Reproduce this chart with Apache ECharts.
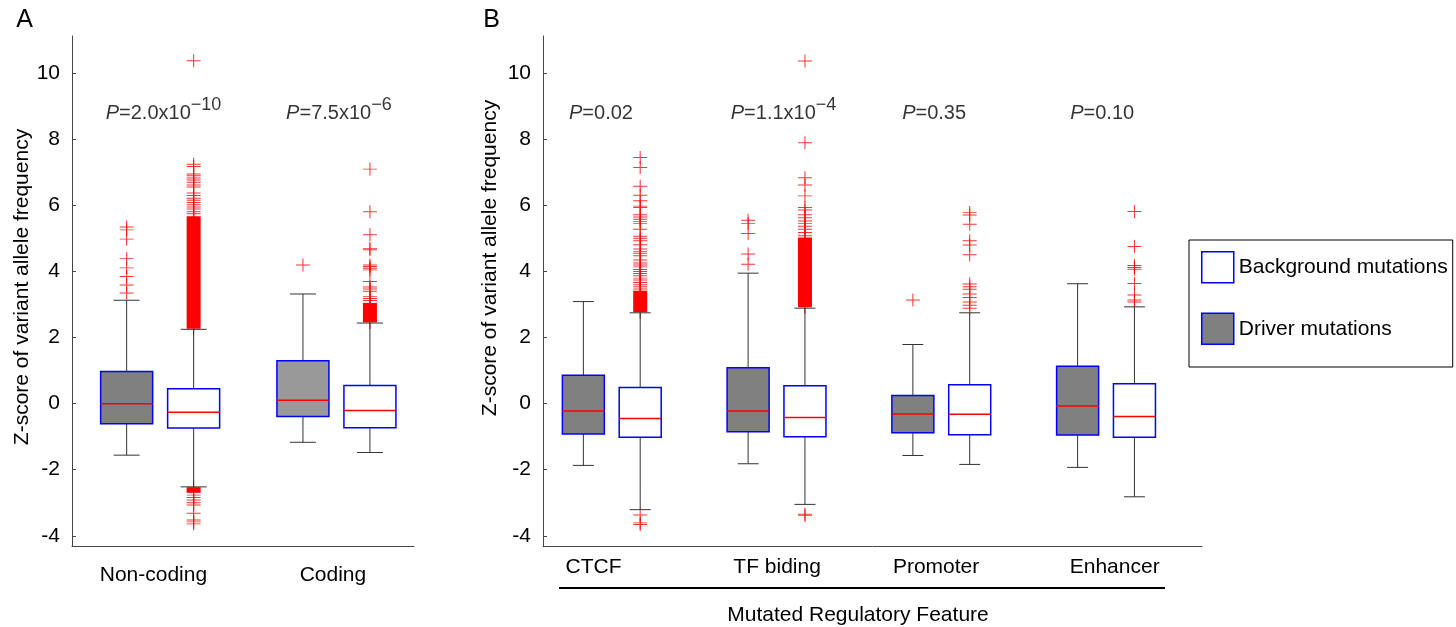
<!DOCTYPE html>
<html>
<head>
<meta charset="utf-8">
<script src="https://cdn.jsdelivr.net/npm/echarts@6/dist/echarts.min.js"></script>
<style>
  html, body { margin: 0; padding: 0; background: #fff; }
  #chart { width: 1456px; height: 627px; }
</style>
</head>
<body>
<div id="chart"></div>
<script>
const FONT = '"Liberation Sans", Arial, sans-serif'

const groupsA = ['Non-coding', 'Coding']
const groupsB = ['CTCF', 'TF biding', 'Promoter', 'Enhancer']
const yTicks = [-4, -2, 0, 2, 4, 6, 8, 10]
const pValuesA = ['2.0x10^-10', '7.5x10^-6']
const pValuesB = ['0.02', '1.1x10^-4', '0.35', '0.10']

// box stats: [lower whisker, Q1, median, Q3, upper whisker]
const driverA = [
  [-1.56, -0.61, 0.00, 0.97, 3.13],
  [-1.17, -0.39, 0.10, 1.30, 3.32]
]
const backgroundA = [
  [-2.52, -0.74, -0.26, 0.45, 2.25],
  [-1.48, -0.73, -0.21, 0.55, 2.44]
]
const driverB = [
  [-1.87, -0.92, -0.22, 0.86, 3.09],
  [-1.82, -0.85, -0.22, 1.09, 3.95],
  [-1.57, -0.88, -0.31, 0.25, 1.79],
  [-1.93, -0.95, -0.07, 1.13, 3.63]
]
const backgroundB = [
  [-3.21, -1.02, -0.45, 0.49, 2.75],
  [-3.05, -1.00, -0.42, 0.54, 2.89],
  [-1.84, -0.94, -0.32, 0.57, 2.75],
  [-2.82, -1.02, -0.39, 0.60, 2.93]
]

// outliers, one list per box
const driverOutA = [
  [5.35, 5.26, 4.98, 4.39, 4.11, 3.85, 3.59, 3.35],
  [4.20]
]
const backgroundOutA = [
  [10.38, 7.25, 7.18, 6.95, 6.90, 6.83, 6.77, 6.70, 6.62, 6.56, 6.38, 6.30, 6.22, 6.16, 6.09, 6.02, 5.95, 5.89, 5.81, 5.75,
    -2.77, -2.84, -2.92, -3.00, -3.07, -3.32, -3.52, -3.58, -3.64],
  [7.10, 5.81, 5.11, 4.70, 4.66, 4.20, 4.15, 4.10, 4.05, 3.70, 3.53, 3.47, 3.40, 3.24, 3.18, 3.12]
]
const driverOutB = [
  [],
  [5.55, 5.45, 5.15, 4.53, 4.22],
  [3.14],
  []
]
const backgroundOutB = [
  [7.45, 7.15, 6.58, 6.31, 6.14, 5.98, 5.94, 5.72, 5.65, 5.58, 5.51, 5.45, 5.28, 5.07, 5.01, 4.93, 4.81, 4.68, 4.61, 4.55, 4.48,
    4.35, 4.26, 4.20, 4.14, 4.06, 4.00, 3.94, 3.87, 3.80, 3.74, 3.67, 3.60, 3.54, 3.47, -3.37, -3.61, -3.66],
  [10.37, 7.90, 6.84, 6.62, 6.29, 5.94, 5.86, 5.72, 5.63, 5.53, 5.45, 5.37, 5.28, 5.18, 5.08, -3.35, -3.39],
  [5.79, 5.71, 5.43, 4.93, 4.80, 4.51, 3.62, 3.54, 3.46, 3.32, 3.21, 3.08, 2.98, 2.89],
  [5.82, 4.76, 4.18, 4.12, 4.07, 3.64, 3.29, 3.14, 3.08]
]
// spans where the outlier crosses are so many they merge into a solid bar
const backgroundDenseA = [
  [[2.27, 5.67], [-2.70, -2.53]],
  [[2.46, 3.05]]
]
const backgroundDenseB = [
  [[2.77, 3.42]],
  [[2.92, 5.03]],
  [],
  []
]

// layout: x position of [driver, background] box in each group
const slotsA = [[0.31, 0.69], [1.31, 1.69]]
const slotsB = [[0.245, 0.59], [1.245, 1.59], [2.245, 2.59], [3.245, 3.59]]
const labelXA = [0.462, 1.48]
const labelXB = [0.307, 1.421, 2.386, 3.47]
const pXA = [0.519, 1.514]
const pXB = [0.352, 1.46, 2.374, 3.394]
const pY = 8.78

const PLUS = 'path://M0,6.5L13,6.5M6.5,0L6.5,13'

function nearest(list, v) {
  let best = 0
  list.forEach((x, i) => { if (Math.abs(x - v) < Math.abs(list[best] - v)) best = i })
  return best
}

function boxSeries(grid, stats, slots, which, width, fills) {
  return {
    type: 'custom',
    xAxisIndex: grid,
    yAxisIndex: grid,
    z: 3,
    silent: true,
    encode: { x: 0, y: [1, 2, 3, 4, 5] },
    data: stats.map((s, i) => ({ value: [slots[i][which]].concat(s), itemStyle: { color: fills[i] } })),
    renderItem: function(params, api) {
      const x = api.value(0)
      const lo = api.coord([x, api.value(1)])
      const q1 = api.coord([x, api.value(2)])
      const md = api.coord([x, api.value(3)])
      const q3 = api.coord([x, api.value(4)])
      const hi = api.coord([x, api.value(5)])
      const cx = lo[0]
      const h = width / 2
      const c = width / 4
      const ws = { stroke: '#333', lineWidth: 1 }
      return {
        type: 'group',
        children: [
          { type: 'line', shape: { x1: cx, y1: hi[1], x2: cx, y2: q3[1] }, style: ws },
          { type: 'line', shape: { x1: cx, y1: q1[1], x2: cx, y2: lo[1] }, style: ws },
          { type: 'line', shape: { x1: cx - c, y1: hi[1], x2: cx + c, y2: hi[1] }, style: ws },
          { type: 'line', shape: { x1: cx - c, y1: lo[1], x2: cx + c, y2: lo[1] }, style: ws },
          { type: 'rect', shape: { x: cx - h, y: q3[1], width: width, height: q1[1] - q3[1] },
            style: { fill: api.visual('color'), stroke: '#0000ff', lineWidth: 1.5 } },
          { type: 'line', shape: { x1: cx - h, y1: md[1], x2: cx + h, y2: md[1] },
            style: { stroke: '#ff0000', lineWidth: 1.5 } }
        ]
      }
    }
  }
}

function outlierSeries(grid, outs, slots, which) {
  const data = []
  outs.forEach((list, i) => list.forEach(v => data.push([slots[i][which], v])))
  return {
    type: 'scatter',
    xAxisIndex: grid,
    yAxisIndex: grid,
    z: 2,
    silent: true,
    symbol: PLUS,
    symbolSize: [14, 13],
    itemStyle: { color: 'rgba(0,0,0,0)', borderColor: '#ff0000', borderWidth: 1 },
    data: data
  }
}

function denseSeries(grid, spans, slots) {
  const data = []
  spans.forEach((list, i) => list.forEach(r => data.push([slots[i][1], r[0], r[1]])))
  return {
    type: 'custom',
    xAxisIndex: grid,
    yAxisIndex: grid,
    z: 2,
    silent: true,
    encode: { x: 0, y: [1, 2] },
    data: data,
    renderItem: function(params, api) {
      const a = api.coord([api.value(0), api.value(1)])
      const b = api.coord([api.value(0), api.value(2)])
      return {
        type: 'group',
        children: [
          { type: 'rect', shape: { x: a[0] - 7, y: b[1], width: 14, height: a[1] - b[1] }, style: { fill: '#ff0000' } },
          { type: 'line', shape: { x1: a[0], y1: b[1] - 6.5, x2: a[0], y2: a[1] + 6.5 }, style: { stroke: '#ff0000', lineWidth: 1 } }
        ]
      }
    }
  }
}

function pText(s) {
  const parts = s.split('^')
  let t = '{i|P}{t|=' + parts[0] + '}'
  if (parts[1]) t += '{s|' + parts[1].replace('-', '\u2212') + '}'
  return t
}

function pSeries(grid, values, xs) {
  return {
    type: 'scatter',
    xAxisIndex: grid,
    yAxisIndex: grid,
    silent: true,
    symbolSize: 0,
    data: xs.map(x => [x, pY]),
    label: {
      show: true,
      position: 'inside',
      color: '#000',
      textBorderWidth: 0,
      formatter: p => pText(values[p.dataIndex]),
      rich: {
        i: { fontStyle: 'italic', fontSize: 20, lineHeight: 36, fontFamily: FONT, color: '#000' },
        t: { fontSize: 20, lineHeight: 36, fontFamily: FONT, color: '#000' },
        s: { fontSize: 18, lineHeight: 19, verticalAlign: 'top', fontFamily: FONT, color: '#000' }
      }
    }
  }
}

function xAxisCfg(grid, max, labelX, names, margin) {
  return {
    gridIndex: grid,
    type: 'value',
    min: 0,
    max: max,
    axisLine: { show: true, onZero: false, lineStyle: { color: '#444', width: 1 } },
    axisTick: { show: false },
    splitLine: { show: false },
    axisLabel: {
      customValues: labelX,
      formatter: v => names[nearest(labelX, v)],
      fontSize: 21,
      fontFamily: FONT,
      color: '#000',
      margin: margin
    }
  }
}

function yAxisCfg(grid) {
  return {
    gridIndex: grid,
    type: 'value',
    min: -4.31,
    max: 11.13,
    axisLine: { show: true, onZero: false, lineStyle: { color: '#444', width: 1 } },
    axisTick: { show: true, inside: true, length: 4, customValues: yTicks, lineStyle: { color: '#444' } },
    splitLine: { show: false },
    axisLabel: { customValues: yTicks, fontSize: 21, fontFamily: FONT, color: '#000', margin: 12 }
  }
}

const chart = echarts.init(document.getElementById('chart'))
const txt = { fontFamily: FONT, fontSize: 21, fill: '#000' }

chart.setOption({
  animation: false,
  grid: [
    { left: 72, top: 36, width: 342, height: 510 },
    { left: 543, top: 36, width: 659, height: 510 }
  ],
  xAxis: [
    xAxisCfg(0, 1.94, labelXA, groupsA, 19),
    xAxisCfg(1, 4.0, labelXB, groupsB, 11)
  ],
  yAxis: [yAxisCfg(0), yAxisCfg(1)],
  legend: {
    orient: 'vertical',
    left: 1189,
    top: 240,
    icon: 'rect',
    itemWidth: 32,
    itemHeight: 31,
    itemGap: 29,
    padding: [11, 5, 22, 12],
    borderColor: '#000',
    borderWidth: 1,
    selectedMode: false,
    textStyle: { fontSize: 21, fontFamily: FONT, color: '#000' },
    data: [
      { name: 'Background mutations', itemStyle: { color: '#ffffff', borderColor: '#0000ff', borderWidth: 1.5, opacity: 1 } },
      { name: 'Driver mutations', itemStyle: { color: '#808080', borderColor: '#0000ff', borderWidth: 1.5, opacity: 1 } }
    ]
  },
  series: [
    { type: 'scatter', name: 'Background mutations', xAxisIndex: 1, yAxisIndex: 1, data: [],
      itemStyle: { color: '#ffffff', borderColor: '#0000ff', borderWidth: 1.5, opacity: 1 } },
    { type: 'scatter', name: 'Driver mutations', xAxisIndex: 1, yAxisIndex: 1, data: [],
      itemStyle: { color: '#808080', borderColor: '#0000ff', borderWidth: 1.5, opacity: 1 } },
    outlierSeries(0, driverOutA, slotsA, 0),
    outlierSeries(0, backgroundOutA, slotsA, 1),
    denseSeries(0, backgroundDenseA, slotsA),
    boxSeries(0, driverA, slotsA, 0, 52, ['#808080', '#999999']),
    boxSeries(0, backgroundA, slotsA, 1, 52, ['#ffffff', '#ffffff']),
    pSeries(0, pValuesA, pXA),
    outlierSeries(1, driverOutB, slotsB, 0),
    outlierSeries(1, backgroundOutB, slotsB, 1),
    denseSeries(1, backgroundDenseB, slotsB),
    boxSeries(1, driverB, slotsB, 0, 42, ['#808080', '#808080', '#808080', '#808080']),
    boxSeries(1, backgroundB, slotsB, 1, 42, ['#ffffff', '#ffffff', '#ffffff', '#ffffff']),
    pSeries(1, pValuesB, pXB)
  ],
  graphic: [
    { type: 'text', x: 24.5, y: 20, style: Object.assign({}, txt, { text: 'A', fontSize: 25, align: 'center', verticalAlign: 'middle' }) },
    { type: 'text', x: 491.5, y: 20, style: Object.assign({}, txt, { text: 'B', fontSize: 25, align: 'center', verticalAlign: 'middle' }) },
    { type: 'text', x: 22, y: 287, rotation: Math.PI / 2,
      style: Object.assign({}, txt, { text: 'Z-score of variant allele frequency', align: 'center', verticalAlign: 'middle' }) },
    { type: 'text', x: 490, y: 258, rotation: Math.PI / 2,
      style: Object.assign({}, txt, { text: 'Z-score of variant allele frequency', align: 'center', verticalAlign: 'middle' }) },
    { type: 'line', shape: { x1: 559, y1: 588, x2: 1165, y2: 588 }, style: { stroke: '#000', lineWidth: 2 } },
    { type: 'text', x: 858, y: 615,
      style: Object.assign({}, txt, { text: 'Mutated Regulatory Feature', align: 'center', verticalAlign: 'middle' }) }
  ]
})
</script>
</body>
</html>
